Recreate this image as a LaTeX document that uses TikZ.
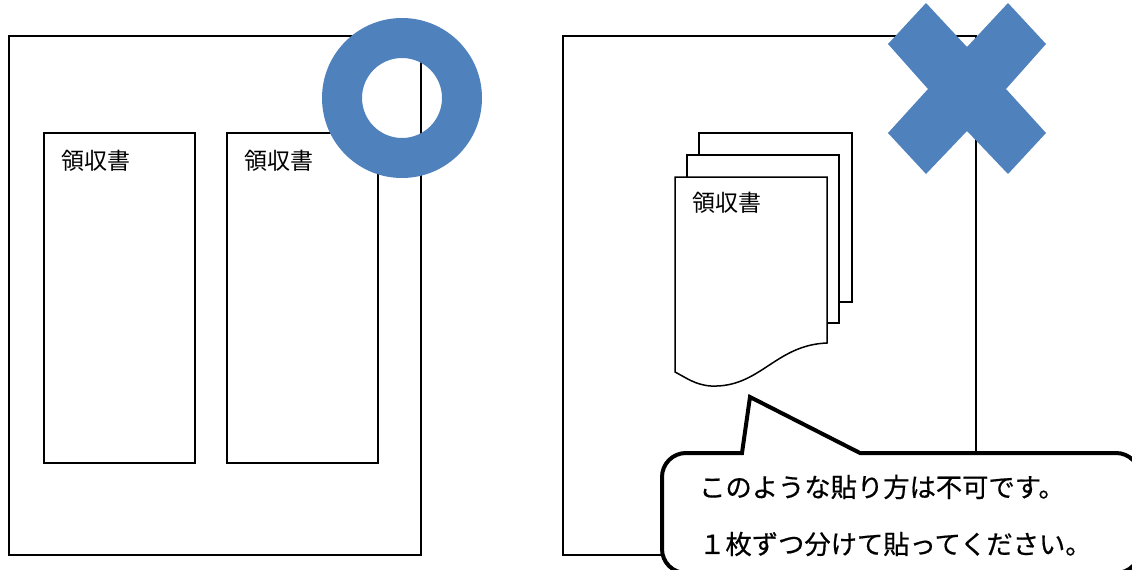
\documentclass[tikz,border=0pt]{standalone}
\usepackage{fontspec}
\newfontfamily\jp{Noto Sans CJK JP}
\newfontfamily\jpbold[FakeBold=0.6]{Noto Sans CJK JP}
\definecolor{markblue}{HTML}{4F81BD}
\tikzset{
  frame/.style={draw=black, line width=1.5pt},
  paper/.style={draw=black, line width=1.5pt, fill=white},
  doclabel/.style={anchor=west, inner sep=0pt, font=\jp\fontsize{23}{23}\selectfont},
  bubbletext/.style={anchor=west, inner sep=0pt, font=\jpbold\fontsize{26.3}{26.3}\selectfont},
  bubble/.style={draw=black, line width=4pt, fill=white, miter limit=10},
}
\begin{document}
\begin{tikzpicture}[x=1pt, y=-1pt]
\clip (0,0) rectangle (1132,570);
\useasboundingbox (0,0) rectangle (1132,570);
% outer sheets
\draw[frame] (9,36) rectangle (421,555);
\draw[frame] (563,36) rectangle (976,555);
% left: two receipts side by side
\draw[paper] (44,133) rectangle (195,463);
\draw[paper] (227,133) rectangle (378,463);
\node[doclabel] (r1) at (61,161) {領収書};
\node[doclabel] (r2) at (244,161) {領収書};
% right: stacked receipts
\draw[paper] (699,133) rectangle (852,302);
\draw[paper] (687,155) rectangle (839,323);
\draw[paper] (675,177) -- (827,177) -- (827,343)
  .. controls (775,345) and (760,388) .. (711,386)
  .. controls (695,385) and (685,377) .. (675,372) -- cycle;
\node[doclabel] (r3) at (692,203) {領収書};
% ring (OK mark)
\fill[markblue, even odd rule] (402,98) circle (80pt) (402,98) circle (40pt);
% cross (NG mark)
\fill[markblue] (888,44) -- (926,3) -- (967,47) -- (1008,3) -- (1046,44) -- (1006,89)
  -- (1046,133) -- (1008,174) -- (967,131) -- (926,174) -- (888,133) -- (928,89) -- cycle;
% speech bubble
\draw[bubble] (862,453) [rounded corners=24pt] -- (1140,453) -- (1140,573) -- (662,573)
  -- (662,453) [sharp corners] -- (742,453) -- (750,397) -- (860,453) -- cycle;
\node[bubbletext] (t1) at (699,487) {このような貼り方は不可です。};
\node[bubbletext] (t2) at (699,544) {１枚ずつ分けて貼ってください。};
\end{tikzpicture}
\end{document}
